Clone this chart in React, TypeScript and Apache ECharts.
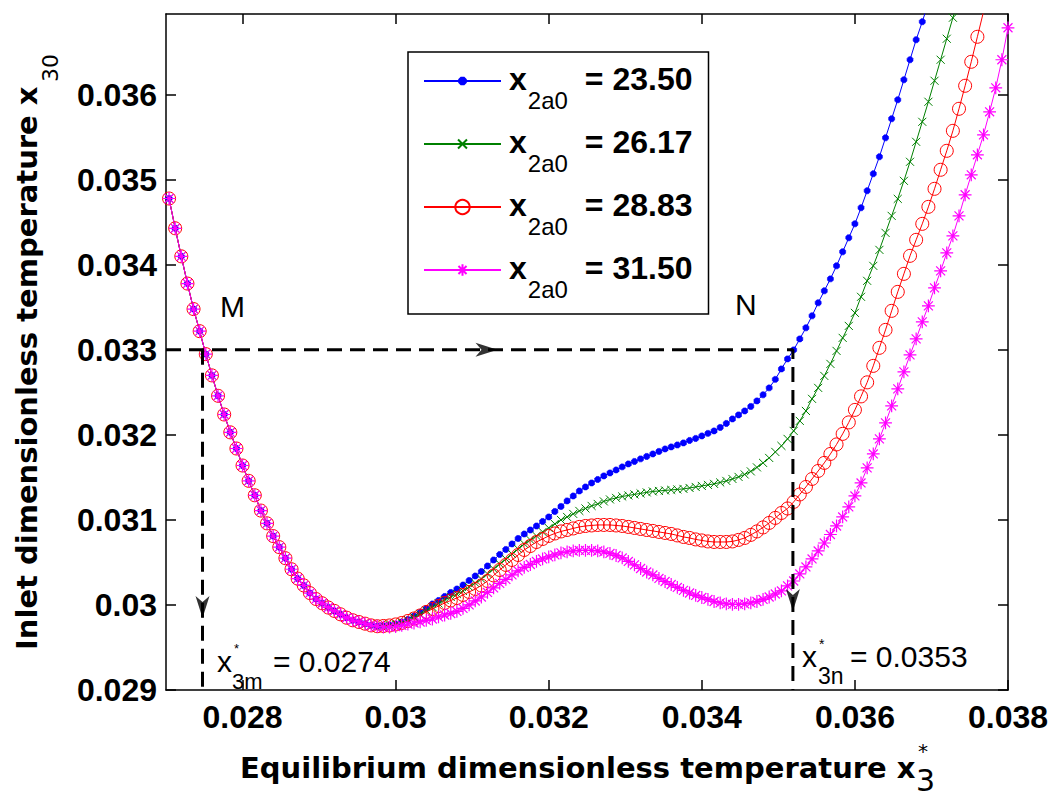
import React, { useEffect, useRef } from "react";
import * as echarts from "echarts";

// Equilibrium temperature x3* (shared grid for all four curves)
const xValues = [
  0.02704, 0.02712, 0.0272, 0.02728, 0.02736, 0.02744, 0.02752, 0.0276, 0.02768, 0.02776,
  0.02784, 0.02792, 0.028, 0.02808, 0.02816, 0.02824, 0.02832, 0.0284, 0.02848, 0.02856,
  0.02864, 0.02872, 0.0288, 0.02888, 0.02896, 0.02904, 0.02912, 0.0292, 0.02928, 0.02936,
  0.02944, 0.02952, 0.0296, 0.02968, 0.02976, 0.02984, 0.02992, 0.03, 0.03008, 0.03016,
  0.03024, 0.03032, 0.0304, 0.03048, 0.03056, 0.03064, 0.03072, 0.0308, 0.03088, 0.03096,
  0.03104, 0.03112, 0.0312, 0.03128, 0.03136, 0.03144, 0.03152, 0.0316, 0.03168, 0.03176,
  0.03184, 0.03192, 0.032, 0.03208, 0.03216, 0.03224, 0.03232, 0.0324, 0.03248, 0.03256,
  0.03264, 0.03272, 0.0328, 0.03288, 0.03296, 0.03304, 0.03312, 0.0332, 0.03328, 0.03336,
  0.03344, 0.03352, 0.0336, 0.03368, 0.03376, 0.03384, 0.03392, 0.034, 0.03408, 0.03416,
  0.03424, 0.03432, 0.0344, 0.03448, 0.03456, 0.03464, 0.03472, 0.0348, 0.03488, 0.03496,
  0.03504, 0.03512, 0.0352, 0.03528, 0.03536, 0.03544, 0.03552, 0.0356, 0.03568, 0.03576,
  0.03584, 0.03592, 0.036, 0.03608, 0.03616, 0.03624, 0.03632, 0.0364, 0.03648, 0.03656,
  0.03664, 0.03672, 0.0368, 0.03688, 0.03696, 0.03704, 0.03712, 0.0372, 0.03728, 0.03736,
  0.03744, 0.03752, 0.0376, 0.03768, 0.03776, 0.03784, 0.03792, 0.038,
];

// Inlet temperature x30: common left branch (all curves coincide)
const sharedY = [
  0.03478, 0.03443, 0.0341, 0.03378, 0.03348, 0.03322, 0.03295, 0.0327, 0.03246, 0.03224,
  0.03203, 0.03184, 0.03164, 0.03146, 0.03129, 0.03111, 0.03096, 0.03081, 0.03068, 0.03055,
  0.03042, 0.03031, 0.03023, 0.03014, 0.03007, 0.03002, 0.02997, 0.02993, 0.02989, 0.02985,
  0.02982, 0.0298, 0.02978, 0.02976, 0.02975,
];

// x2a0 = 23.50
const blueTail = [
  0.029753, 0.029765, 0.029776, 0.0298, 0.029829, 0.029871, 0.029912, 0.029959, 0.030012, 0.030053,
  0.0301, 0.030147, 0.030188, 0.030235, 0.030288, 0.030341, 0.030394, 0.030459, 0.030529, 0.030594,
  0.030653, 0.030718, 0.030782, 0.030835, 0.030882, 0.030929, 0.030982, 0.031035, 0.0311, 0.031159,
  0.031224, 0.031282, 0.031341, 0.031388, 0.031435, 0.031476, 0.031518, 0.031553, 0.031588, 0.031624,
  0.031659, 0.031688, 0.031718, 0.031747, 0.031776, 0.031806, 0.031835, 0.031859, 0.031882, 0.031906,
  0.031935, 0.031959, 0.031988, 0.032018, 0.032047, 0.032088, 0.032135, 0.032188, 0.032235, 0.032282,
  0.032335, 0.0324, 0.032471, 0.032553, 0.032653, 0.032776, 0.032894, 0.033, 0.033129, 0.033259,
  0.0334, 0.033553, 0.033694, 0.033835, 0.033988, 0.034153, 0.034318, 0.034482, 0.034671, 0.034871,
  0.035071, 0.035271, 0.035494, 0.035718, 0.035941, 0.036176, 0.036412, 0.036647, 0.036859, 0.037082,
];

// x2a0 = 26.17
const greenTail = [
  0.029753, 0.029765, 0.029776, 0.029794, 0.029824, 0.029859, 0.029894, 0.029935, 0.029976, 0.030018,
  0.030059, 0.030094, 0.030129, 0.030165, 0.030212, 0.030259, 0.030306, 0.030365, 0.030424, 0.030482,
  0.030541, 0.0306, 0.030659, 0.030718, 0.030765, 0.030812, 0.030859, 0.030906, 0.030953, 0.031,
  0.031035, 0.031071, 0.031106, 0.031135, 0.031165, 0.031188, 0.031218, 0.031241, 0.031259, 0.031276,
  0.031288, 0.0313, 0.031312, 0.031324, 0.031335, 0.031341, 0.031347, 0.031353, 0.031359, 0.031365,
  0.031376, 0.031388, 0.0314, 0.031412, 0.031424, 0.031441, 0.031459, 0.031482, 0.031506, 0.031535,
  0.031571, 0.031618, 0.031671, 0.031729, 0.0318, 0.031871, 0.031953, 0.032047, 0.032165, 0.032282,
  0.032424, 0.032553, 0.032694, 0.032835, 0.032988, 0.033141, 0.033282, 0.033435, 0.033624, 0.033812,
  0.033988, 0.034176, 0.034376, 0.034576, 0.034776, 0.034988, 0.035212, 0.035447, 0.035682, 0.035918,
  0.036165, 0.036412, 0.036659, 0.036906, 0.037153,
];

// x2a0 = 28.83
const redTail = [
  0.029753, 0.029759, 0.029771, 0.029788, 0.029812, 0.029841, 0.029876, 0.029918, 0.029953, 0.029988,
  0.030024, 0.030053, 0.030082, 0.030118, 0.030153, 0.030188, 0.030229, 0.030282, 0.030347, 0.030412,
  0.030471, 0.030529, 0.030588, 0.030647, 0.030694, 0.030741, 0.030776, 0.030812, 0.030841, 0.030865,
  0.030882, 0.0309, 0.030918, 0.030929, 0.030935, 0.030941, 0.030941, 0.030941, 0.030935, 0.030929,
  0.030918, 0.030906, 0.030894, 0.030882, 0.030871, 0.030859, 0.030847, 0.030835, 0.030818, 0.0308,
  0.030788, 0.030771, 0.030759, 0.030747, 0.030741, 0.030741, 0.030741, 0.030747, 0.030765, 0.030788,
  0.030824, 0.030865, 0.030912, 0.030965, 0.031024, 0.031082, 0.031135, 0.031212, 0.0313, 0.031388,
  0.031482, 0.031576, 0.031671, 0.031776, 0.031888, 0.032012, 0.032147, 0.032294, 0.032453, 0.032618,
  0.032812, 0.033024, 0.033235, 0.033459, 0.033682, 0.033894, 0.034106, 0.034294, 0.034482, 0.034682,
  0.034894, 0.035118, 0.035341, 0.035576, 0.035835, 0.036106, 0.036388, 0.036682, 0.036977, 0.037271,
];

// x2a0 = 31.50
const magentaTail = [
  0.029741, 0.029741, 0.029747, 0.029759, 0.029776, 0.029788, 0.0298, 0.029818, 0.029835, 0.029859,
  0.029882, 0.0299, 0.029924, 0.029959, 0.03, 0.030047, 0.030094, 0.030147, 0.0302, 0.030253,
  0.0303, 0.030353, 0.0304, 0.030441, 0.030476, 0.030512, 0.030541, 0.030565, 0.030588, 0.030612,
  0.030624, 0.030635, 0.030641, 0.030641, 0.030641, 0.030635, 0.030624, 0.030606, 0.030582, 0.030553,
  0.030512, 0.030471, 0.030429, 0.030388, 0.030353, 0.030312, 0.030276, 0.030241, 0.030206, 0.030171,
  0.030141, 0.030112, 0.030088, 0.030065, 0.030041, 0.030024, 0.030012, 0.030006, 0.030006, 0.030012,
  0.030024, 0.030041, 0.030065, 0.030094, 0.030129, 0.030165, 0.030224, 0.030282, 0.030365, 0.030447,
  0.030541, 0.030635, 0.030729, 0.030829, 0.030929, 0.031035, 0.031153, 0.031282, 0.031435, 0.031612,
  0.031776, 0.031953, 0.032141, 0.032341, 0.032541, 0.032741, 0.032941, 0.033129, 0.033329, 0.033518,
  0.033729, 0.033929, 0.034141, 0.034341, 0.034576, 0.034824, 0.035059, 0.035294, 0.035529, 0.0358,
  0.036082, 0.036412, 0.036788,
];

const legendValues = ["23.50", "26.17", "28.83", "31.50"];
const seriesColors = ["#0000ff", "#008000", "#ff0000", "#ff00ff"];
const xTickValues = [0.028, 0.03, 0.032, 0.034, 0.036, 0.038];
const yTickValues = [0.029, 0.03, 0.031, 0.032, 0.033, 0.034, 0.035, 0.036];

// guide (dashed) construction
const guideLevel = 0.033;
const guideM = 0.027477;
const guideN = 0.03519;
const xMin = 0.027;
const yMin = 0.029;
const arrowRight = [[0.031187, 0.033]];
const arrowDown = [
  [0.027477, 0.029976],
  [0.03519, 0.030059],
];

const markerPaths = {
  dot: "path://M0,0M10,10M4,2.7L6,2.7L7.3,4L7.3,6L6,7.3L4,7.3L2.7,6L2.7,4Z",
  cross: "path://M0,0M10,10M1.9,1.9L8.1,8.1M8.1,1.9L1.9,8.1",
  star: "path://M0,0M10,10M5,1L5,9M1,5L9,5M2.2,2.2L7.8,7.8M7.8,2.2L2.2,7.8",
};

function pairs(tail: number[]) {
  const ys = sharedY.concat(tail);
  return ys.map((y, i) => [xValues[i], y]);
}

const AX = { color: "#000", width: 1.5 };
const SANS = "Liberation Sans, Arial, sans-serif";
const DEJA = "DejaVu Sans, sans-serif";

export default function App() {
  const ref = useRef<HTMLDivElement>(null);

  useEffect(() => {
    if (!ref.current) return;
    const chart = echarts.init(ref.current, undefined, { renderer: "svg" });

    const tails = [blueTail, greenTail, redTail, magentaTail];
    const symbols = [markerPaths.dot, markerPaths.cross, "circle", markerPaths.star];
    const sizes = [13, 13, 13, 16];
    const borderW = [0.6, 1, 1, 1.2];

    const curveSeries = legendValues.map((name, i) => ({
      name,
      type: "line",
      data: pairs(tails[i]),
      symbol: symbols[i],
      symbolSize: sizes[i],
      showSymbol: true,
      showAllSymbol: true,
      clip: true,
      silent: true,
      z: 2 + i,
      lineStyle: { color: seriesColors[i], width: 1 },
      itemStyle: {
        color: i === 0 ? seriesColors[0] : "rgba(0,0,0,0)",
        borderColor: seriesColors[i],
        borderWidth: borderW[i],
      },
      emphasis: { disabled: true },
    }));

    const dashStyle = { color: "#000", width: 3, type: [15, 8] };

    const option: any = {
      animation: false,
      backgroundColor: "#fff",
      grid: { left: 166, right: 50, top: 14, bottom: 108 },
      xAxis: [
        {
          type: "value",
          min: xMin,
          max: 0.038,
          position: "bottom",
          axisLine: { show: true, onZero: false, lineStyle: AX },
          axisTick: { show: true, inside: true, length: 10, customValues: xTickValues, lineStyle: AX },
          axisLabel: {
            customValues: xTickValues,
            formatter: (v: number) => String(v),
            margin: 11,
            fontSize: 32,
            fontWeight: "bold",
            fontFamily: SANS,
            color: "#000",
          },
          splitLine: { show: false },
        },
        {
          type: "value",
          min: xMin,
          max: 0.038,
          position: "top",
          axisLine: { show: true, onZero: false, lineStyle: AX },
          axisTick: { show: true, inside: true, length: 10, customValues: xTickValues, lineStyle: AX },
          axisLabel: { show: false },
          splitLine: { show: false },
        },
      ],
      yAxis: [
        {
          type: "value",
          min: yMin,
          max: 0.03695,
          position: "left",
          axisLine: { show: true, onZero: false, lineStyle: AX },
          axisTick: { show: true, inside: true, length: 10, customValues: yTickValues, lineStyle: AX },
          axisLabel: {
            customValues: yTickValues,
            formatter: (v: number) => String(v),
            margin: 9,
            fontSize: 32,
            fontWeight: "bold",
            fontFamily: SANS,
            color: "#000",
          },
          splitLine: { show: false },
        },
        {
          type: "value",
          min: yMin,
          max: 0.03695,
          position: "right",
          axisLine: { show: true, onZero: false, lineStyle: AX },
          axisTick: { show: true, inside: true, length: 10, customValues: yTickValues, lineStyle: AX },
          axisLabel: { show: false },
          splitLine: { show: false },
        },
      ],
      legend: {
        data: legendValues,
        orient: "vertical",
        left: 408,
        top: 52,
        itemWidth: 77,
        itemHeight: 18,
        itemGap: 14,
        padding: [11, 16, 13, 15],
        borderColor: "#000",
        borderWidth: 1.5,
        backgroundColor: "#fff",
        selectedMode: false,
        z: 20,
        formatter: (name: string) => `{x|x}{s|2a0}{v|= ${name}}`,
        textStyle: {
          color: "#000",
          rich: {
            x: { fontFamily: SANS, fontWeight: "bold", fontSize: 32, lineHeight: 36, verticalAlign: "top", padding: [0, 0, 0, 3] },
            s: { fontFamily: SANS, fontSize: 24, lineHeight: 22, verticalAlign: "top", padding: [25, 0, 0, 1] },
            v: { fontFamily: SANS, fontWeight: "bold", fontSize: 32, lineHeight: 36, verticalAlign: "top", padding: [0, 0, 0, 17] },
          },
        },
      },
      series: [
        ...curveSeries,
        {
          name: "guideN",
          type: "line",
          data: [
            [xMin, guideLevel],
            [guideN, guideLevel],
            [guideN, yMin],
          ],
          symbol: "none",
          lineStyle: dashStyle,
          silent: true,
          z: 10,
        },
        {
          name: "guideM",
          type: "line",
          data: [
            [guideM, guideLevel],
            [guideM, yMin],
          ],
          symbol: "none",
          lineStyle: dashStyle,
          silent: true,
          z: 10,
        },
        {
          name: "arrowR",
          type: "scatter",
          data: arrowRight,
          symbol: "path://M0,0L22,7L0,14L6,7Z",
          symbolSize: [22, 14],
          itemStyle: { color: "#000" },
          silent: true,
          z: 11,
        },
        {
          name: "arrowD",
          type: "scatter",
          data: arrowDown,
          symbol: "path://M0,0L7,22L14,0L7,6Z",
          symbolSize: [14, 22],
          itemStyle: { color: "#000" },
          silent: true,
          z: 11,
        },
      ],
      graphic: [
        { type: "text", x: 220, y: 306.6, z: 30, style: { text: "M", fontSize: 30, fontFamily: SANS, fill: "#000", align: "left", verticalAlign: "middle" } },
        { type: "text", x: 735, y: 304.6, z: 30, style: { text: "N", fontSize: 30, fontFamily: SANS, fill: "#000", align: "left", verticalAlign: "middle" } },
        // x*3m = 0.0274
        { type: "text", x: 217, y: 661.6, z: 30, style: { text: "x", fontSize: 30, fontFamily: SANS, fill: "#000", align: "left", verticalAlign: "middle" } },
        { type: "text", x: 234, y: 648.5, z: 30, style: { text: "*", fontSize: 13, fontFamily: SANS, fill: "#000", align: "left", verticalAlign: "middle" } },
        { type: "text", x: 232, y: 681, z: 30, style: { text: "3m", fontSize: 22, fontFamily: SANS, fill: "#000", align: "left", verticalAlign: "middle" } },
        { type: "text", x: 273, y: 661.6, z: 30, style: { text: "= 0.0274", fontSize: 30, fontFamily: SANS, fill: "#000", align: "left", verticalAlign: "middle" } },
        // x*3n = 0.0353
        { type: "text", x: 802, y: 656.6, z: 30, style: { text: "x", fontSize: 30, fontFamily: SANS, fill: "#000", align: "left", verticalAlign: "middle" } },
        { type: "text", x: 819, y: 644, z: 30, style: { text: "*", fontSize: 14, fontFamily: SANS, fill: "#000", align: "left", verticalAlign: "middle" } },
        { type: "text", x: 818, y: 675.5, z: 30, style: { text: "3n", fontSize: 23, fontFamily: SANS, fill: "#000", align: "left", verticalAlign: "middle" } },
        { type: "text", x: 850, y: 656.6, z: 30, style: { text: "= 0.0353", fontSize: 30, fontFamily: SANS, fill: "#000", align: "left", verticalAlign: "middle" } },
        // x axis title
        { type: "text", x: 240, y: 768, z: 30, style: { text: "Equilibrium dimensionless temperature x", fontSize: 29, fontWeight: "bold", fontFamily: DEJA, fill: "#000", align: "left", verticalAlign: "middle" } },
        { type: "text", x: 918, y: 751, z: 30, style: { text: "*", fontSize: 20, fontFamily: DEJA, fill: "#000", align: "left", verticalAlign: "middle" } },
        { type: "text", x: 916, y: 780, z: 30, style: { text: "3", fontSize: 30, fontFamily: DEJA, fill: "#000", align: "left", verticalAlign: "middle" } },
        // y axis title
        { type: "text", x: 27, y: 650, rotation: Math.PI / 2, z: 30, style: { text: "Inlet dimensionless temperature x", fontSize: 29, fontWeight: "bold", fontFamily: DEJA, fill: "#000", align: "left", verticalAlign: "middle" } },
        { type: "text", x: 50, y: 82, rotation: Math.PI / 2, z: 30, style: { text: "30", fontSize: 22, fontFamily: DEJA, fill: "#000", align: "left", verticalAlign: "middle" } },
      ],
    };

    chart.setOption(option);
    return () => chart.dispose();
  }, []);

  return (
    <div
      ref={ref}
      style={{ position: "fixed", left: 0, top: 0, width: 1058, height: 798, background: "#fff" }}
    />
  );
}
